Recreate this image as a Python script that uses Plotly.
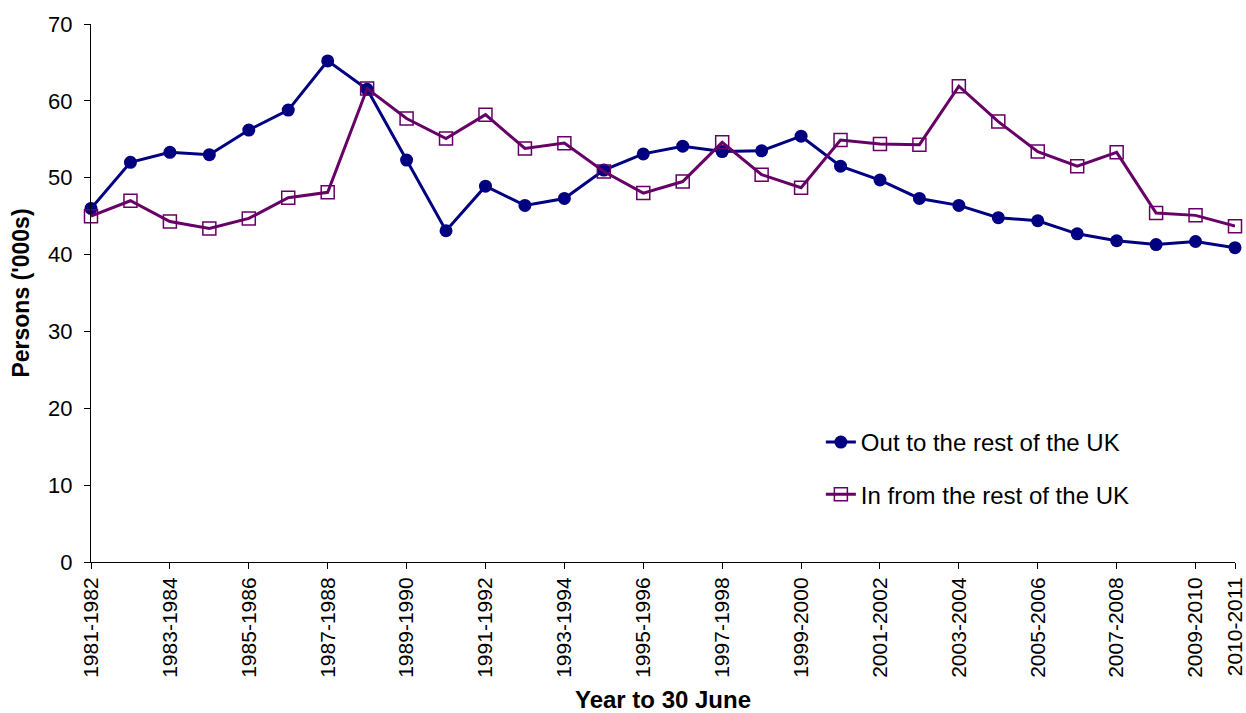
import plotly.graph_objects as go

years = [f"{y}-{y+1}" for y in range(1981, 2011)]
out_uk = [46.0, 52.0, 53.3, 53.0, 56.2, 58.8, 65.2, 61.5, 52.3, 43.1,
          48.9, 46.4, 47.3, 51.0, 53.1, 54.1, 53.4, 53.5, 55.4, 51.5,
          49.7, 47.3, 46.4, 44.8, 44.4, 42.7, 41.8, 41.3, 41.7, 40.9]
in_uk = [45.0, 47.0, 44.3, 43.4, 44.7, 47.4, 48.1, 61.6, 57.7, 55.1,
         58.2, 53.8, 54.5, 50.8, 48.0, 49.5, 54.6, 50.4, 48.7, 54.9,
         54.4, 54.3, 61.9, 57.3, 53.4, 51.5, 53.3, 45.4, 45.1, 43.7]
tick_labels = years[0:29:2] + [years[-1]]

fig = go.Figure()
fig.add_trace(go.Scatter(
    x=years, y=out_uk, mode="lines+markers", name="Out to the rest of the UK",
    line=dict(color="#000080", width=3),
    marker=dict(symbol="circle", size=13, color="#000080"),
    cliponaxis=False, legendgroup="a"))
fig.add_trace(go.Scatter(
    x=years, y=in_uk, mode="lines+markers", name="In from the rest of the UK",
    line=dict(color="#660066", width=3),
    marker=dict(symbol="square-open", size=13, color="#660066", line=dict(width=1.5)),
    cliponaxis=False, legendgroup="b"))

font = "Liberation Sans, Arial, sans-serif"
fig.update_layout(
    width=1246, height=713,
    margin=dict(l=91, r=11, t=24, b=151),
    paper_bgcolor="white", plot_bgcolor="white",
    font=dict(family=font, size=20, color="black"),
    showlegend=True,
    legend=dict(x=0.638, y=0.264, xanchor="left", yanchor="top",
                traceorder="grouped", tracegroupgap=18,
                font=dict(size=24), bgcolor="rgba(0,0,0,0)"),
    xaxis=dict(type="category", range=[0, 29], tickmode="array",
               tickvals=tick_labels, ticktext=tick_labels, tickangle=-90,
               ticks="outside", ticklen=6, tickcolor="black",
               showline=True, linecolor="black", linewidth=1,
               showgrid=False, zeroline=False, automargin=False,
               tickfont=dict(size=21),
               title=dict(text="<b>Year to 30 June</b>", font=dict(size=24), standoff=19)),
    yaxis=dict(range=[0, 70], dtick=10, ticks="outside", ticklen=6, tickcolor="black",
               showline=True, linecolor="black", linewidth=1,
               showgrid=False, zeroline=False, automargin=False,
               tickfont=dict(size=22), ticklabelstandoff=7,
               title=dict(text="<b>Persons ('000s)</b>", font=dict(size=23), standoff=12)),
)
fig.write_html("out.html", config={"displayModeBar": False},
               post_script="document.body.style.margin='0';document.body.style.overflow='hidden';")
